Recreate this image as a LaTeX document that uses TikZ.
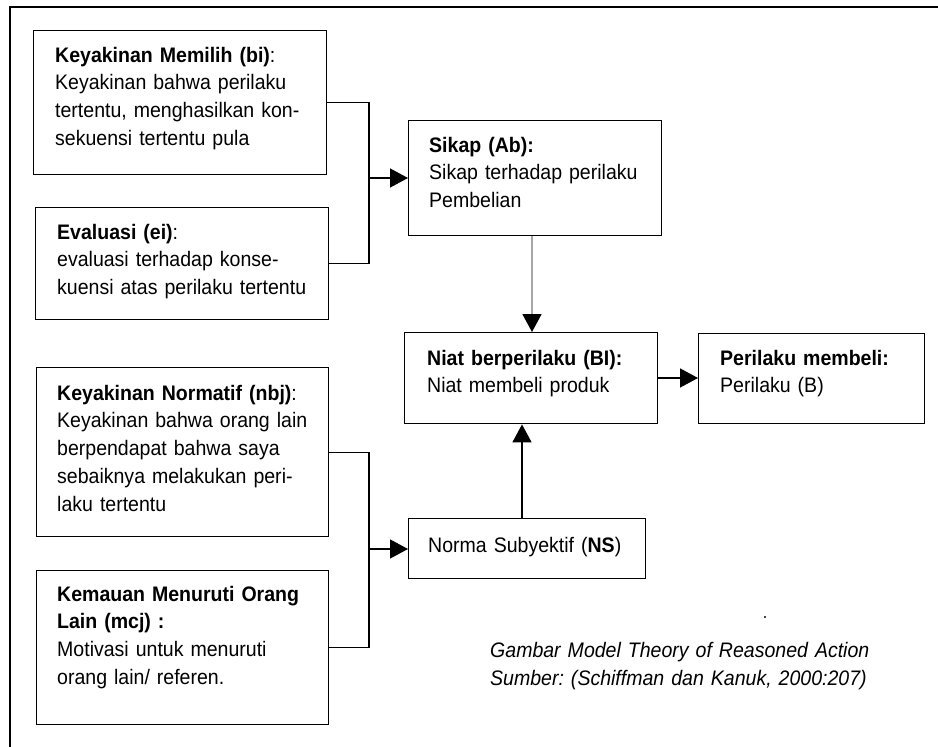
\documentclass[tikz,border=0pt]{standalone}
\usepackage{fontspec}
\setmainfont[FakeStretch=0.93]{Liberation Sans}
\usetikzlibrary{arrows.meta}
\frenchspacing
\begin{document}
\begin{tikzpicture}[x=1pt,y=-1pt,
  box/.style={draw=black,line width=1.4pt,inner sep=0pt,anchor=north west},
  txt/.style={inner sep=0pt,anchor=base west,text width=#1,align=left,
    font=\fontsize{21}{27.8}\selectfont\frenchspacing},
  txt/.default=270pt,
  conn/.style={line width=1.4pt,draw=black},
  arr/.style={conn,-{Triangle[length=18pt,width=19pt]}}
]
\useasboundingbox (0,0) rectangle (938,747);
% outer frame (left and top only)
\draw[line width=2pt] (938,7) -- (10,7) -- (10,747);

% boxes
\node[box,minimum width=293pt,minimum height=144pt] (b1) at (33,30) {};
\node[box,minimum width=293pt,minimum height=112pt] (b2) at (35,207) {};
\node[box,minimum width=292pt,minimum height=169pt] (b3) at (36,367) {};
\node[box,minimum width=292pt,minimum height=154pt] (b4) at (36,570) {};
\node[box,minimum width=253pt,minimum height=115pt] (sikap) at (408,120) {};
\node[box,minimum width=253pt,minimum height=91pt] (niat) at (404,332) {};
\node[box,minimum width=226pt,minimum height=90pt] (beli) at (698,333) {};
\node[box,minimum width=237pt,minimum height=60pt] (ns) at (408,518) {};

% texts
\node[txt] (t1) at (55,62) {\makebox[250pt][s]{\textbf{Keyakinan Memilih (bi)}:}\\
  \makebox[250pt][s]{Keyakinan bahwa perilaku}\\
  \makebox[250pt][s]{tertentu, menghasilkan kon-}\\
  sekuensi tertentu pula};
\node[txt] (t2) at (57,239) {\textbf{Evaluasi (ei)}:\\
  \makebox[248pt][s]{evaluasi terhadap konse-}\\
  kuensi atas perilaku tertentu};
\node[txt] (t3) at (57,400) {\textbf{Keyakinan Normatif (nbj)}:\\
  \makebox[250pt][s]{Keyakinan bahwa orang lain}\\
  \makebox[250pt][s]{berpendapat bahwa saya}\\
  \makebox[250pt][s]{sebaiknya melakukan peri-}\\
  laku tertentu};
\node[txt] (t4) at (57,601) {\textbf{Kemauan Menuruti Orang}\\
  \textbf{Lain (mcj) :}\\
  Motivasi untuk menuruti\\
  orang lain/ referen.};
\node[txt=230pt] (t5) at (429,152) {\textbf{Sikap (Ab):}\\
  Sikap terhadap perilaku\\
  Pembelian};
\node[txt=230pt] (t6) at (427,365) {\textbf{Niat berperilaku (BI):}\\
  Niat membeli produk};
\node[txt=200pt] (t7) at (720,365) {\textbf{Perilaku membeli:}\\
  Perilaku (B)};
\node[txt=220pt] (t8) at (428,552) {Norma Subyektif (\textbf{NS})};

% caption
\node[txt=420pt,font=\fontsize{21}{28}\selectfont\itshape] (cap) at (490,657)
  {Gambar Model Theory of Reasoned Action\\
   Sumber: (Schiffman dan Kanuk, 2000:207)};
\fill (765,617) circle (1.1pt);

% connectors
\coordinate (j1) at (369,178);
\coordinate (j2) at (369,549);
\draw[conn] (b1.east) -| (j1);
\draw[conn] (b2.east) -| (j1);
\draw[arr] (j1) -- (sikap.west |- j1);
\draw[conn] (b3.east) -| (j2);
\draw[conn] (b4.east) -| (j2);
\draw[arr] (j2) -- (ns.west |- j2);
\draw[line width=1.8pt,draw=black!35,-{Triangle[length=18pt,width=19pt,color=black]}]
  (sikap.south -| 532,0) -- (niat.north -| 532,0);
\draw[arr] (ns.north -| 522,0) -- (niat.south -| 522,0);
\draw[arr] (niat.east |- 0,378) -- (beli.west |- 0,378);
\end{tikzpicture}
\end{document}
